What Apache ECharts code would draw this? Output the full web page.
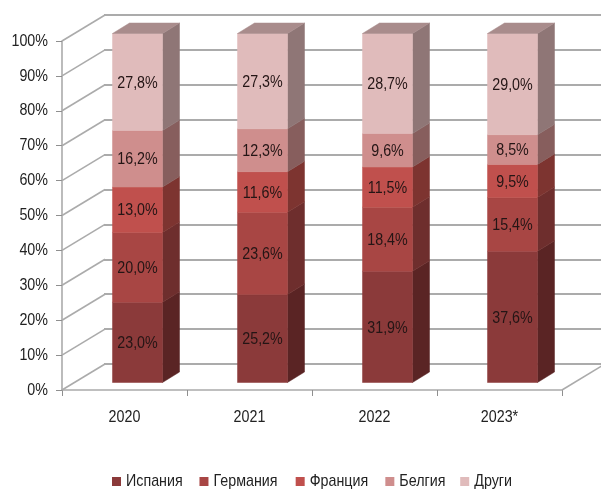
<!DOCTYPE html>
<html><head><meta charset="utf-8">
<style>html,body{margin:0;padding:0;background:#fff}#c{width:601px;height:491px}</style>
<script src="https://cdn.jsdelivr.net/npm/echarts@6/dist/echarts.min.js"></script>
</head><body><div id="c"></div>
<script>
const categories = ['2020','2021','2022','2023*'];
const spain   = [23.0,25.2,31.9,37.6];
const germany = [20.0,23.6,18.4,15.4];
const france  = [13.0,11.6,11.5,9.5];
const belgium = [16.2,12.3,9.6,8.5];
const others  = [27.8,27.3,28.7,29.0];
const seriesNames = ['Испания','Германия','Франция','Белгия','Други'];
const seriesValues = [spain,germany,france,belgium,others];
const frontColors = ['#8B3A3A','#A84644','#C0504D','#CF8E8D','#E0BBBB'];
const sideColors  = ['#5A2424','#6E2E2D','#7D3430','#875E5D','#8F7676'];
const topColor = '#A98C8C';
const yTicks = [0,10,20,30,40,50,60,70,80,90,100];

const FONT = '"Liberation Sans",Arial,sans-serif';
const TEXT_CONDENSE = 0.84;
const LINE = '#ababab';
const WALL_DX = 43, WALL_DY = -26;
const BAR_DX = 13, BAR_DY = -7.5, BAR_W = 50, DEPTH_X = 17, DEPTH_Y = -10.5;

const totals = categories.map((_,i)=>seriesValues.reduce((s,a)=>s+a[i],0));
function rows(k){
  return categories.map((_,i)=>{
    let base=0; for(let j=0;j<k;j++) base+=seriesValues[j][i];
    return [i, base/totals[i]*100, (base+seriesValues[k][i])/totals[i]*100, seriesValues[k][i]];
  });
}
function poly(points,fill){
  return {type:'polygon',shape:{points},style:{fill,stroke:fill,lineWidth:0.5}};
}
const barSeries = seriesNames.map((name,k)=>({
  name, type:'custom', xAxisIndex:0, yAxisIndex:0, z:5, clip:false,
  itemStyle:{color:frontColors[k]},
  data:rows(k),
  encode:{x:0,y:[1,2]},
  renderItem(params,api){
    const b=api.coord([api.value(0),api.value(1)]);
    const t=api.coord([api.value(0),api.value(2)]);
    const l=b[0]+BAR_DX-BAR_W/2, r=l+BAR_W, yb=b[1]+BAR_DY, yt=t[1]+BAR_DY;
    const children=[
      poly([[r,yb],[r+DEPTH_X,yb+DEPTH_Y],[r+DEPTH_X,yt+DEPTH_Y],[r,yt]],sideColors[k]),
      poly([[l,yb],[r,yb],[r,yt],[l,yt]],frontColors[k])
    ];
    if(k===seriesNames.length-1){
      children.push(poly([[l,yt],[l+DEPTH_X,yt+DEPTH_Y],[r+DEPTH_X,yt+DEPTH_Y],[r,yt]],topColor));
    }
    children.push({type:'text',z2:10,style:{
      x:(l+r)/2,y:(yb+yt)/2+1,text:api.value(3).toFixed(1).replace('.',',')+'%',
      align:'center',verticalAlign:'middle',fill:'#241515',font:'17px '+FONT}});
    return {type:'group',children};
  }
}));
const wallSeries = {
  type:'custom', silent:true, xAxisIndex:0, yAxisIndex:0, z:2, clip:false,
  legendHoverLink:false, data:yTicks.map(v=>[0,v]),
  encode:{y:1},
  renderItem(params,api){
    const p=api.coord([0,api.value(1)]);
    const x0=params.coordSys.x;
    const children=[{type:'line',shape:{x1:x0,y1:p[1],x2:x0+WALL_DX,y2:p[1]+WALL_DY},
      style:{stroke:LINE,lineWidth:1.6}}];
    if(api.value(1)===0){
      const xr=params.coordSys.x+params.coordSys.width;
      children.push({type:'line',shape:{x1:xr,y1:p[1],x2:xr+WALL_DX,y2:p[1]+WALL_DY},
        style:{stroke:LINE,lineWidth:1.6}});
    }
    return {type:'group',children};
  }
};
const chart = echarts.init(document.getElementById('c'),null,{renderer:'canvas'});
chart.setOption({
  animation:false, backgroundColor:'#fff',
  legend:{data:seriesNames,left:107,top:468,icon:'rect',itemWidth:9,itemHeight:9,itemGap:6,
    textStyle:{fontFamily:FONT,fontSize:17,color:'#222'}},
  grid:[
    {left:62,top:41,width:500,height:349,containLabel:false},
    {left:104,top:15,width:497,height:349,containLabel:false}
  ],
  xAxis:[
    {type:'category',gridIndex:0,data:categories,
     axisLine:{lineStyle:{color:LINE,width:1.6}},
     axisTick:{show:true,length:6,lineStyle:{color:'#8f8f8f'}},
     axisLabel:{fontFamily:FONT,fontSize:17,color:'#222',margin:19,interval:0}},
    {type:'category',gridIndex:1,data:categories,show:false}
  ],
  yAxis:[
    {type:'value',gridIndex:0,min:0,max:100,interval:10,
     axisLine:{show:true,lineStyle:{color:LINE,width:1.6}},
     axisTick:{show:true,length:6,lineStyle:{color:'#8f8f8f'}},
     splitLine:{show:false},
     axisLabel:{fontFamily:FONT,fontSize:17,color:'#222',margin:14,padding:[4,0,0,0],formatter:'{value}%'}},
    {type:'value',gridIndex:1,min:0,max:100,interval:10,
     axisLine:{show:false},axisTick:{show:false},axisLabel:{show:false},
     splitLine:{show:true,lineStyle:{color:LINE,width:2}}}
  ],
  series:[wallSeries,...barSeries]
});
// The reference uses a condensed face that is not installed: narrow every text about its anchor.
const zr = chart.getZr();
(function walk(els){
  els.forEach(el=>{
    if(el.isGroup) walk(el.childrenRef());
    else if(el.type==='text'){
      el.originX = (el.style && el.style.x) || 0;
      el.scaleX = TEXT_CONDENSE;
      el.dirty();
    }
  });
})(zr.storage.getRoots());
zr.refreshImmediately();
</script></body></html>
